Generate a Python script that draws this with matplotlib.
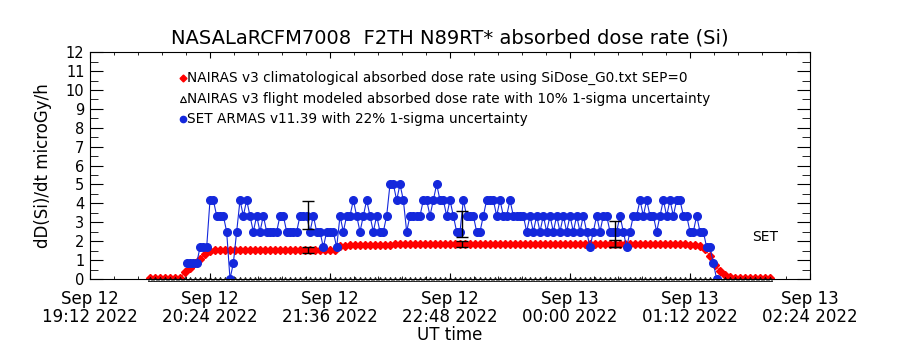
import numpy as np
import matplotlib
matplotlib.use('Agg')
import matplotlib.pyplot as plt
from matplotlib.ticker import MultipleLocator

# SET ARMAS dose rate, one sample every 2 min from 20:10 UT
set_start = np.datetime64('2022-09-12T20:10')
set_dose = [
    0.83, 0.83, 0.83, 0.83, 1.67, 1.67, 1.67, 4.17, 4.17, 3.34, 3.34, 3.34, 2.50, 0.00, 0.83, 2.50,
    4.17, 3.34, 4.17, 3.34, 2.50, 3.34, 2.50, 3.34, 2.50, 2.50, 2.50, 2.50, 3.34, 3.34, 2.50, 2.50,
    2.50, 2.50, 3.34, 3.34, 3.34, 2.50, 3.34, 2.50, 2.50, 1.67, 2.50, 2.50, 2.50, 1.67, 3.34, 2.50,
    3.34, 3.34, 4.17, 3.34, 2.50, 3.34, 4.17, 3.34, 2.50, 3.34, 2.50, 2.50, 3.34, 5.01, 5.01, 4.17,
    5.01, 4.17, 2.50, 3.34, 3.34, 3.34, 3.34, 4.17, 4.17, 3.34, 4.17, 5.01, 4.17, 4.17, 3.34, 4.17,
    3.34, 2.50, 2.50, 4.17, 3.34, 3.34, 3.34, 2.50, 2.50, 3.34, 4.17, 4.17, 4.17, 3.34, 4.17, 3.34,
    3.34, 4.17, 3.34, 3.34, 3.34, 3.34, 2.50, 3.34, 2.50, 3.34, 2.50, 3.34, 2.50, 3.34, 2.50, 3.34,
    2.50, 3.34, 2.50, 3.34, 2.50, 3.34, 2.50, 3.34, 2.50, 1.67, 2.50, 3.34, 2.50, 3.34, 3.34, 2.50,
    2.50, 2.50, 3.34, 2.50, 1.67, 2.50, 3.34, 3.34, 4.17, 3.34, 4.17, 3.34, 3.34, 2.50, 3.34, 4.17,
    3.34, 4.17, 3.34, 4.17, 4.17, 3.34, 3.34, 2.50, 2.50, 3.34, 2.50, 2.50, 1.67, 1.67, 0.83, 0.00,
]

# NAIRAS climatological dose rate, one sample every 3 min from 19:48 UT
clim_start = np.datetime64('2022-09-12T19:48')
clim_dose = [
    0.05, 0.05, 0.05, 0.05, 0.05, 0.05, 0.05, 0.35, 0.60, 0.85, 1.08, 1.32, 1.50, 1.53, 1.53,
    1.53, 1.53, 1.53, 1.53, 1.53, 1.53, 1.53, 1.53, 1.53, 1.53, 1.53, 1.53, 1.53, 1.53, 1.53,
    1.53, 1.53, 1.53, 1.53, 1.53, 1.53, 1.53, 1.53, 1.75, 1.76, 1.77, 1.78, 1.78, 1.79, 1.79,
    1.80, 1.80, 1.81, 1.81, 1.83, 1.85, 1.85, 1.85, 1.85, 1.85, 1.85, 1.85, 1.85, 1.85, 1.85,
    1.85, 1.85, 1.85, 1.85, 1.85, 1.85, 1.85, 1.85, 1.85, 1.85, 1.85, 1.85, 1.85, 1.85, 1.85,
    1.85, 1.85, 1.85, 1.85, 1.85, 1.85, 1.85, 1.85, 1.85, 1.85, 1.85, 1.85, 1.85, 1.85, 1.85,
    1.85, 1.85, 1.85, 1.85, 1.85, 1.85, 1.85, 1.85, 1.85, 1.85, 1.85, 1.85, 1.85, 1.85, 1.85,
    1.85, 1.85, 1.85, 1.82, 1.78, 1.74, 1.60, 1.20, 0.75, 0.42, 0.22, 0.12, 0.07, 0.05, 0.05,
    0.05, 0.05, 0.05, 0.05, 0.05,
]

# NAIRAS flight modeled dose rate reads as zero over the whole track
flight_dose = [0.0] * len(clim_dose)

# uncertainty bars
err_time = np.array(['2022-09-12T21:23', '2022-09-12T22:55', '2022-09-13T00:27'], dtype='datetime64[m]')
err_set = [3.37, 2.92, 2.39]
err_set_sig = [0.74, 0.68, 0.68]
err_clim = [1.53, 1.85, 1.88]
err_clim_sig = [0.17, 0.18, 0.18]

xtick_times = np.array(['2022-09-12T19:12', '2022-09-12T20:24', '2022-09-12T21:36', '2022-09-12T22:48',
                        '2022-09-13T00:00', '2022-09-13T01:12', '2022-09-13T02:24'], dtype='datetime64[m]')
xtick_labels = ['Sep 12\n19:12 2022', 'Sep 12\n20:24 2022', 'Sep 12\n21:36 2022', 'Sep 12\n22:48 2022',
                'Sep 13\n00:00 2022', 'Sep 13\n01:12 2022', 'Sep 13\n02:24 2022']

legend_labels = ['NAIRAS v3 climatological absorbed dose rate using SiDose_G0.txt SEP=0',
                 'NAIRAS v3 flight modeled absorbed dose rate with 10% 1-sigma uncertainty',
                 'SET ARMAS v11.39 with 22% 1-sigma uncertainty']

blue = '#1428dc'
red = '#ff0000'

set_t = set_start + np.arange(len(set_dose)) * np.timedelta64(2, 'm')
clim_t = clim_start + np.arange(len(clim_dose)) * np.timedelta64(3, 'm')

fig = plt.figure(figsize=(9, 3.5), dpi=100)
ax = fig.add_axes([0.1, 0.203, 0.8, 0.648])

ax.plot(clim_t, clim_dose, '-D', color=red, lw=0.6, ms=3.6, mec=red)
ax.plot(clim_t, flight_dose, '^', mfc='none', mec='k', ms=3, mew=0.6, clip_on=False)
ax.plot(set_t, set_dose, '-o', color=blue, lw=0.8, ms=5.5, mec=blue)
ax.errorbar(err_time, err_set, yerr=err_set_sig, fmt='none', ecolor='k', elinewidth=1, capsize=4, capthick=1)
ax.errorbar(err_time, err_clim, yerr=err_clim_sig, fmt='none', ecolor='k', elinewidth=1, capsize=4, capthick=1)

# legend drawn by hand like the IDL plot
leg_y = [0.885, 0.793, 0.705]
ax.plot([0.129], [leg_y[0]], 'D', color=red, ms=3.5, transform=ax.transAxes)
ax.plot([0.129], [leg_y[1]], '^', mfc='none', mec='k', ms=4, mew=0.8, transform=ax.transAxes)
ax.plot([0.129], [leg_y[2]], 'o', color=blue, ms=4.5, transform=ax.transAxes)
for yy, lab in zip(leg_y, legend_labels):
    ax.text(0.135, yy, lab, transform=ax.transAxes, fontsize=9.8, va='center', ha='left')

ax.text(0.9375, 0.185, 'SET', transform=ax.transAxes, fontsize=10, ha='center', va='center')

ax.set_xlim(xtick_times[0], xtick_times[-1])
ax.set_ylim(0, 12)
ax.set_xticks(xtick_times)
ax.set_xticklabels(xtick_labels, fontsize=12, linespacing=1.0)
ax.xaxis.set_minor_locator(MultipleLocator(0.01))
ax.set_yticks(range(13))
ax.set_yticklabels([str(v) for v in range(13)], fontsize=10.5)
ax.yaxis.set_minor_locator(MultipleLocator(0.5))

ax.tick_params(which='both', direction='in', top=True, right=True)
ax.tick_params(axis='x', which='major', length=4, pad=8)
ax.tick_params(axis='x', which='minor', length=2)
ax.tick_params(axis='y', which='major', length=9.5, pad=4)
ax.tick_params(axis='y', which='minor', length=6)

ax.set_xlabel('UT time', fontsize=12, labelpad=0)
ax.set_ylabel('dD(Si)/dt microGy/h', fontsize=12, labelpad=10)
fig.text(0.5, 1 - 38 / 350, 'NASALaRCFM7008  F2TH N89RT* absorbed dose rate (Si)',
         ha='center', va='center', fontsize=14)

fig.savefig('out.png', dpi=100)
print('plot saved')
